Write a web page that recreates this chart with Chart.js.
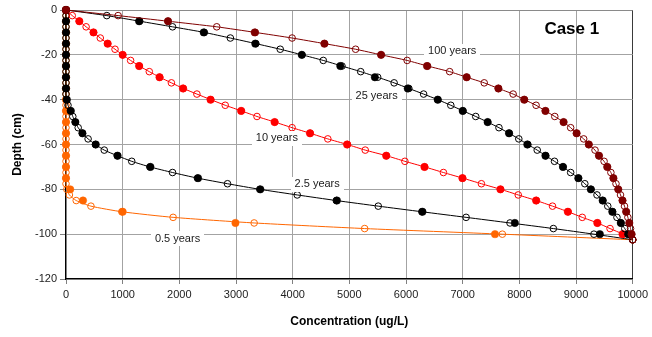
<!DOCTYPE html>
<html>
<head>
<meta charset="utf-8">
<script src="https://cdn.jsdelivr.net/npm/chart.js@4/dist/chart.umd.min.js"></script>
<style>
  html, body { margin: 0; padding: 0; background: #fff; }
  #wrap { width: 652px; height: 337px; position: relative; }
</style>
</head>
<body>
<div id="wrap"><canvas id="c"></canvas></div>
<script>
// Depth grids (cm): fine grid for the open markers and curves, coarse grid for the filled markers
const depthFine = [0, -2.5, -5, -7.5, -10, -12.5, -15, -17.5, -20, -22.5, -25, -27.5, -30, -32.5, -35, -37.5,
  -40, -42.5, -45, -47.5, -50, -52.5, -55, -57.5, -60, -62.5, -65, -67.5, -70, -72.5, -75, -77.5,
  -80, -82.5, -85, -87.5, -90, -92.5, -95, -97.5, -100, -102.5];
const depthCoarse = [0, -5, -10, -15, -20, -25, -30, -35, -40, -45, -50, -55, -60, -65, -70, -75, -80, -85, -90, -95, -100];

// Concentration (ug/L) profiles
const conc100Open = [0, 920, 1800, 2660, 3340, 3990, 4560, 5110, 5560, 6020, 6380, 6770, 7070, 7380, 7630, 7890,
  8090, 8295, 8460, 8625, 8780, 8905, 9010, 9135, 9225, 9335, 9405, 9495, 9555, 9615, 9660, 9705,
  9745, 9785, 9820, 9855, 9885, 9915, 9940, 9962, 9980, 10000];
const conc100Filled = [0, 1800, 3330, 4560, 5560, 6370, 7070, 7630, 8085, 8460, 8780, 9010, 9225, 9405, 9550, 9660,
  9745, 9820, 9885, 9940, 9980];

const conc25Open = [0, 720, 1300, 1880, 2440, 2900, 3350, 3780, 4165, 4540, 4870, 5200, 5500, 5790, 6050, 6310,
  6560, 6790, 7005, 7230, 7440, 7640, 7820, 7990, 8150, 8315, 8465, 8620, 8770, 8905, 9045, 9155,
  9265, 9370, 9472, 9560, 9645, 9722, 9792, 9860, 9925, 10000];
const conc25Filled = [0, 1290, 2430, 3340, 4160, 4840, 5450, 6030, 6560, 7000, 7440, 7818, 8140, 8460, 8770, 9040,
  9260, 9470, 9640, 9790, 9920];

const conc10Open = [0, 110, 235, 355, 485, 605, 735, 865, 1000, 1140, 1295, 1470, 1655, 1860, 2070, 2310,
  2555, 2810, 3095, 3370, 3685, 3990, 4310, 4620, 4965, 5280, 5655, 5980, 6330, 6660, 7000, 7330,
  7670, 7980, 8300, 8585, 8860, 9110, 9380, 9600, 9830, 10000];
const conc10Filled = [0, 235, 485, 735, 1000, 1290, 1650, 2065, 2550, 3090, 3680, 4305, 4960, 5650, 6325, 6995,
  7665, 8295, 8855, 9375, 9820];

const conc2p5Open = [0, 0, 0, 0, 0, 0, 0, 0, 0, 0, 0, 0, 0, 0, 0, 0,
  10, 35, 80, 120, 165, 215, 290, 390, 520, 675, 905, 1160, 1480, 1880, 2320, 2850,
  3420, 4080, 4770, 5510, 6280, 7060, 7835, 8600, 9316, 10000];
const conc2p5Filled = [0, 0, 0, 0, 0, 0, 0, 0, 15, 85, 165, 290, 525, 910, 1490, 2330,
  3430, 4780, 6290, 7920, 9420];

const conc0p5Open = [0, 0, 0, 0, 0, 0, 0, 0, 0, 0, 0, 0, 0, 0, 0, 0,
  0, 0, 0, 0, 0, 0, 0, 0, 0, 0, 0, 0, 0, 0, 0, 0,
  15, 60, 180, 440, 985, 1890, 3320, 5270, 7700, 10000];
const conc0p5Filled = [0, 0, 0, 0, 0, 0, 0, 0, 0, 0, 0, 0, 0, 0, 0, 0,
  75, 300, 1000, 2990, 7570];

const seriesNames = ['100 years', '25 years', '10 years', '2.5 years', '0.5 years'];
const xTicks = [0, 1000, 2000, 3000, 4000, 5000, 6000, 7000, 8000, 9000, 10000];
const yTicks = [-120, -100, -80, -60, -40, -20, 0];

const profiles = [
  { name: seriesNames[0], color: '#800000', open: conc100Open, filled: conc100Filled },
  { name: seriesNames[1], color: '#000000', open: conc25Open, filled: conc25Filled },
  { name: seriesNames[2], color: '#ff0000', open: conc10Open, filled: conc10Filled },
  { name: seriesNames[3], color: '#000000', open: conc2p5Open, filled: conc2p5Filled },
  { name: seriesNames[4], color: '#ff6600', open: conc0p5Open, filled: conc0p5Filled }
];

const datasets = [];
profiles.forEach(p => {
  // filled markers (drawn above the curve)
  datasets.push({
    label: p.name + ' (filled)',
    data: depthCoarse.map((d, i) => ({ x: p.filled[i], y: d })),
    showLine: false,
    pointRadius: 3.7,
    pointBackgroundColor: p.color,
    pointBorderColor: p.color,
    pointBorderWidth: 0.5,
    clip: false
  });
  // smooth curve with open markers
  datasets.push({
    label: p.name,
    data: depthFine.map((d, i) => ({ x: p.open[i], y: d })),
    showLine: true,
    borderColor: p.color,
    borderWidth: 1,
    tension: 0.2,
    pointRadius: 3.3,
    pointBackgroundColor: 'rgba(0,0,0,0)',
    pointBorderColor: p.color,
    pointBorderWidth: 1,
    clip: false
  });
});

const FONT = "'Liberation Sans', Arial, sans-serif";

// Text boxes naming each profile, plus the case title
const curveLabelPlugin = {
  id: 'curveLabels',
  afterDatasetsDraw(chart, args, opts) {
    const { ctx, scales: { x, y } } = chart;
    ctx.save();
    ctx.font = '11px ' + FONT;
    ctx.textAlign = 'center';
    ctx.textBaseline = 'middle';
    opts.items.forEach(it => {
      const px = x.getPixelForValue(it.at[0]);
      const py = y.getPixelForValue(it.at[1]);
      const w = ctx.measureText(it.text).width;
      ctx.fillStyle = '#ffffff';
      ctx.fillRect(Math.round(px - w / 2 - 4), Math.round(py - 7), Math.round(w + 8), 15);
      ctx.fillStyle = '#1a1a1a';
      ctx.fillText(it.text, px, py + 0.5);
    });
    ctx.font = 'bold 17px ' + FONT;
    ctx.fillStyle = '#000';
    ctx.fillText(opts.title.text, x.getPixelForValue(opts.title.at[0]), y.getPixelForValue(opts.title.at[1]));
    ctx.restore();
  }
};

new Chart(document.getElementById('c'), {
  type: 'scatter',
  data: { datasets },
  options: {
    responsive: true,
    maintainAspectRatio: false,
    animation: false,
    events: [],
    layout: { padding: { top: 10, right: 16, left: 0, bottom: 0 } },
    plugins: {
      legend: { display: false },
      tooltip: { enabled: false },
      curveLabels: {
        items: [
          { text: seriesNames[0], at: [6815, -18.2] },
          { text: seriesNames[1], at: [5481, -38.2] },
          { text: seriesNames[2], at: [3722, -57.0] },
          { text: seriesNames[3], at: [4432, -77.4] },
          { text: seriesNames[4], at: [1968, -101.8] }
        ],
        title: { text: 'Case 1', at: [8925, -8.6] }
      }
    },
    scales: {
      x: {
        type: 'linear',
        min: 0,
        max: 10000,
        afterBuildTicks: s => { s.ticks = xTicks.map(v => ({ value: v })); },
        afterFit: s => { s.height = 58; },
        ticks: {
          color: '#222', font: { family: FONT, size: 11 }, padding: 4, maxRotation: 0,
          callback: v => String(v)
        },
        grid: {
          color: c => (c.tick && c.tick.value === 10000) ? '#3a3a3a' : '#a3a3a3',
          tickColor: '#808080',
          tickLength: 5,
          lineWidth: 1
        },
        border: { color: '#000', width: 1.2 },
        title: {
          display: true,
          text: 'Concentration (ug/L)',
          color: '#000',
          font: { family: FONT, size: 12, weight: 'bold' },
          padding: { top: 4, bottom: 8 }
        }
      },
      y: {
        type: 'linear',
        min: -120,
        max: 0,
        afterBuildTicks: s => { s.ticks = yTicks.map(v => ({ value: v })); },
        afterFit: s => { s.width = 66; },
        ticks: {
          color: '#222', font: { family: FONT, size: 11 }, padding: 3,
          callback: v => String(v)
        },
        grid: {
          color: c => (c.tick && c.tick.value === 0) ? '#8a8a8a' : '#a3a3a3',
          tickColor: '#808080',
          tickLength: 6,
          lineWidth: 1
        },
        border: { color: '#000', width: 1.2 },
        title: {
          display: true,
          text: 'Depth (cm)',
          color: '#000',
          font: { family: FONT, size: 12, weight: 'bold' },
          padding: { top: 10, bottom: 0 }
        }
      }
    }
  },
  plugins: [curveLabelPlugin]
});
</script>
</body>
</html>
